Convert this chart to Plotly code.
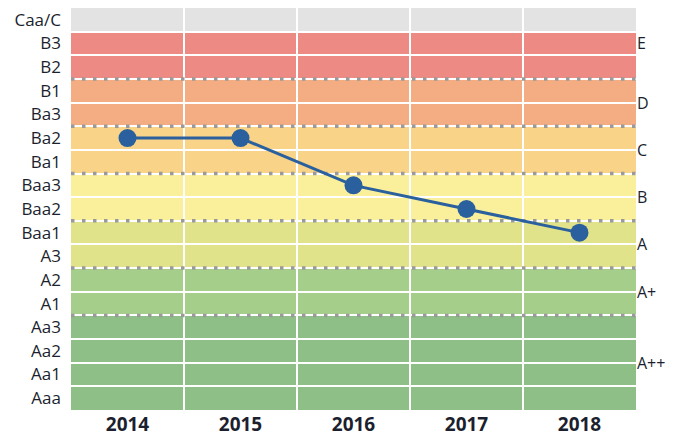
import plotly.graph_objects as go

years = ["2014", "2015", "2016", "2017", "2018"]
ratings = ["Ba2", "Ba2", "Baa3", "Baa2", "Baa1"]

scale = ["Aaa", "Aa1", "Aa2", "Aa3", "A1", "A2", "A3", "Baa1", "Baa2",
         "Baa3", "Ba1", "Ba2", "Ba3", "B1", "B2", "B3", "Caa/C"]

band_names = ["A++", "A+", "A", "B", "C", "D", "E", ""]
band_low = ["Aaa", "A1", "A3", "Baa2", "Ba1", "Ba3", "B2", "Caa/C"]
band_high = ["Aa3", "A2", "Baa1", "Baa3", "Ba2", "B1", "B3", "Caa/C"]
band_colors = ["#8EBF86", "#A4CE8A", "#E1E38A", "#FAF09B", "#F9D387",
               "#F4AD82", "#EE8A84", "#E3E3E3"]

fig = go.Figure()

shapes = []
annotations = []
for name, lo, hi, col in zip(band_names, band_low, band_high, band_colors):
    i0 = scale.index(lo)
    i1 = scale.index(hi)
    shapes.append(dict(type="rect", xref="x", yref="y", x0=-0.5, x1=4.5,
                       y0=i0 - 0.5, y1=i1 + 0.5, fillcolor=col,
                       line=dict(width=0), layer="below"))
    if name:
        ymid = (i0 + i1) / 2 if name != "E" else i1
        annotations.append(dict(xref="paper", yref="y", x=1, y=ymid,
                                text=name, showarrow=False, xanchor="left",
                                xshift=0, borderpad=0,
                                font=dict(size=16, color="#1b1f2e",
                                          family="Open Sans")))
# dotted separators between coloured bands
sep_rows = [scale.index(b) for b in band_low[1:7]]
for r in sep_rows:
    shapes.append(dict(type="line", xref="x", yref="y", x0=-0.5, x1=4.5,
                       y0=r - 0.5, y1=r - 0.5,
                       line=dict(color="#9A9A9A", width=3.5,
                                 dash="3.5px,7.5px"),
                       layer="between"))

fig.add_trace(go.Scatter(
    x=years, y=ratings, mode="lines+markers",
    line=dict(color="#2A609E", width=3),
    marker=dict(size=18, color="#2A609E"),
    showlegend=False, hoverinfo="skip", cliponaxis=False))

fig.update_layout(
    width=665, height=429,
    margin=dict(l=63, r=37, t=0, b=27, autoexpand=False),
    paper_bgcolor="white", plot_bgcolor="white",
    shapes=shapes, annotations=annotations,
    xaxis=dict(type="category", categoryorder="array", categoryarray=years,
               range=[-0.5, 4.5], tickson="boundaries", showgrid=True,
               gridcolor="white", gridwidth=2, ticks="", zeroline=False,
               showline=False, ticklabelstandoff=1, automargin=False,
               tickfont=dict(size=19, family="Open Sans", color="#1b1f2e",
                             weight="bold")),
    yaxis=dict(type="category", categoryorder="array", categoryarray=scale,
               range=[-0.5, 16.5], tickson="boundaries", showgrid=True,
               gridcolor="white", gridwidth=2, ticks="", zeroline=False,
               showline=False, ticklabelstandoff=9, automargin=False,
               tickfont=dict(size=17, family="Open Sans", color="#1b1f2e")),
)

fig.write_html("out.html")
